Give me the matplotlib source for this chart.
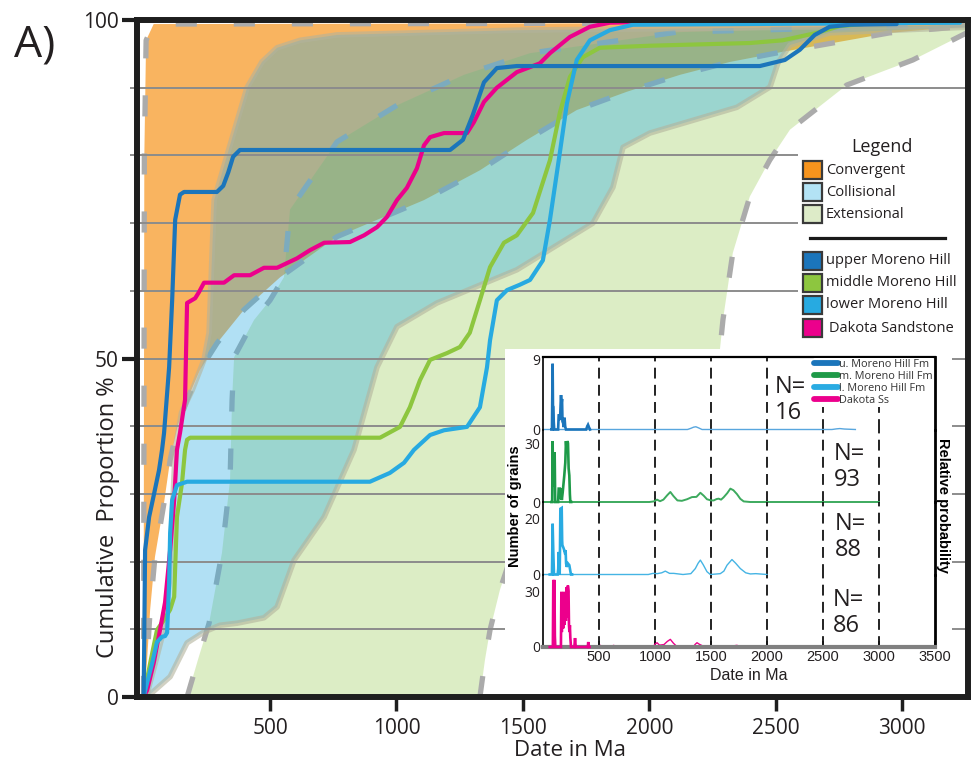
import matplotlib
matplotlib.use("Agg")
import matplotlib.pyplot as plt
from matplotlib.patches import Rectangle
from matplotlib.lines import Line2D

W, H = 974, 766
plt.rcParams['font.family'] = ['Open Sans', 'DejaVu Sans']

# ---------------- DATA ----------------
# Cumulative proportion curves (Date in Ma, cumulative %)
umh_x = [0, 2, 6, 22, 42, 61, 73, 81, 101, 113, 125, 144, 160, 290, 315, 335, 354, 381, 1212, 1263, 1302,
         1346, 1397, 1476, 2437, 2536, 2595, 2654, 2713, 2793, 2978]
umh_y = [0, 6, 21.7, 26.6, 30.1, 33.5, 36.5, 39, 48.7, 58.6, 70.5, 74.2, 74.6, 74.6, 75.5, 77.5, 79.8, 80.8, 80.8, 82.3, 86,
         90.8, 92.9, 93.2, 93.2, 94.1, 95.6, 97.8, 99, 99.3, 99.4]

mmh_x = [0, 26, 53, 81, 105, 121, 125, 132, 152, 164, 172, 184, 935, 1014, 1053, 1093, 1133, 1200, 1251, 1290,
         1330, 1370, 1425, 1476, 1540, 1607, 1646, 1686, 1737, 1804, 2002, 2397, 2527, 2662, 2753, 2844]
mmh_y = [0, 5, 9.9, 11.4, 12.9, 14.8, 19.2, 26.6, 31.6, 36.5, 38, 38.3, 38.3, 39.9, 42.8, 46.8, 49.8, 50.8, 51.7, 53.8,
         58.6, 63.5, 67.1, 68.2, 71.5, 79.3, 86.3, 91.6, 94.5, 95.9, 96.2, 96.6, 97, 98.1, 99.1, 99.4]

lmh_x = [0, 14, 34, 53, 73, 85, 93, 101, 105, 113, 132, 172, 895, 974, 1030, 1069, 1133, 1188, 1279, 1330, 1358,
         1370, 1397, 1437, 1488, 1528, 1579, 1607, 1646, 1674, 1713, 1765, 1844, 1935, 3228]
lmh_y = [0, 2.1, 5, 8.1, 8.9, 9, 9.5, 16.8, 24.2, 29.1, 31.3, 31.8, 31.8, 33.1, 34.6, 36.5, 38.7, 39.4, 39.9, 42.8, 48.7,
         52.7, 58.6, 60.1, 60.9, 61.6, 64.5, 70.5, 80.4, 87.7, 94.1, 97, 98.5, 99.3, 99.6]

dak_x = [0, 14, 40, 65, 85, 105, 121, 132, 144, 164, 172, 204, 219, 239, 318, 358, 421, 476, 528, 607, 658, 714,
         816, 872, 923, 962, 1002, 1041, 1081, 1109, 1133, 1188, 1279, 1306, 1346, 1397, 1476, 1567, 1607, 1686,
         1765, 1844, 1963]
dak_y = [0, 1, 5, 9.9, 14, 21.7, 29.1, 36.5, 39, 43.9, 58.2, 58.9, 59.8, 61.2, 61.2, 62.3, 62.3, 63.4, 63.4, 64.8, 66, 67.1,
         67.2, 68.2, 69.4, 70.9, 73.4, 75.2, 78.1, 81.5, 82.7, 83.3, 83.3, 84.9, 87.9, 90, 92.3, 93.6, 95.1, 97.5,
         99, 99.6, 99.7]

# Tectonic-setting envelopes (Date in Ma, cumulative %)
conv_up_x = [0, 3, 10, 40, 3300]
conv_up_y = [0, 80, 97, 99.4, 99.6]
conv_low_x = [2, 14, 26, 45, 81, 105, 136, 172, 223, 291, 397, 540, 765, 1109, 1330, 1516, 1713, 1911, 2121,
              2318, 2527, 2725, 2950, 3228, 3300]
conv_low_y = [0, 5.5, 12.9, 20.7, 28.7, 35, 40.2, 43.9, 48.3, 52.3, 57.2, 62, 68, 73.4, 77.8, 82.3, 86.7, 89.4, 91.9,
              93.8, 95.3, 96.6, 98.1, 99, 99.2]

coll_up_x = [14, 42, 73, 101, 113, 125, 150, 192, 239, 259, 279, 330, 409, 468, 528, 619, 765, 1476, 3300]
coll_up_y = [0.5, 4.4, 8.9, 16.8, 26.6, 36.5, 42, 45.3, 49.8, 53.8, 73.4, 80, 90, 93.8, 95.9, 97, 97.8, 98.5, 99.2]
coll_low_x = [14, 105, 172, 239, 302, 370, 476, 528, 595, 714, 832, 923, 1002, 1160, 1476, 1777, 1856, 1896,
              2002, 2346, 2477, 2508, 2556, 2713, 3300]
coll_low_y = [0, 3, 8, 9.6, 10.6, 10.9, 11.7, 13.3, 20.2, 26.6, 36.5, 48.7, 54.7, 58.2, 63.1, 70, 75.3, 81.2,
              83.3, 87.1, 90.1, 93.6, 96.3, 98.1, 99]

ext_left_x = [172, 215, 259, 310, 342, 350, 358, 437, 500, 555, 579, 765, 1002, 1267, 1528, 2109, 3228, 3300]
ext_left_y = [0, 5.5, 10.9, 21.3, 32.1, 43.9, 50.2, 55.7, 58.6, 62, 72, 82, 87.4, 91.9, 95.1, 98.2, 99.3, 99.4]
ext_right_x = [1330, 1350, 1370, 1409, 1488, 1646, 1884, 2121, 2239, 2279, 2291, 2330, 2397, 2476, 2556,
               2781, 3042, 3255, 3300]
ext_right_y = [0, 5.5, 9.9, 15.8, 24.7, 32.1, 38, 42.4, 46.8, 51.3, 55.7, 65.6, 73.9, 79.3, 83.8, 90.4, 94.1,
               98.1, 98.8]

# Axis ticks
xticks_main = [500, 1000, 1500, 2000, 2500, 3000]
yticks_main = [0, 50, 100]
ygrid = [10, 20, 30, 40, 50, 60, 70, 80, 90]

legend_fields = ['Convergent', 'Collisional', 'Extensional']
legend_samples = ['upper Moreno Hill', 'middle Moreno Hill', 'lower Moreno Hill', 'Dakota Sandstone']

# Inset: histograms (number of grains) and relative-probability traces
umh_hx = [75, 80, 84, 86, 89, 93, 96, 100, 135, 140, 146, 152, 158, 161, 165, 170, 174, 179, 184, 190, 193,
          198, 205, 385, 395, 402, 410, 420]
umh_hy = [0, 0, 6, 8.4, 3, 2.9, 1, 0, 0, 1.8, 1.8, 1.2, 3.5, 4.4, 3.2, 3.9, 1.0, 0.9, 0.3, 1.5, 1.4,
          0.4, 0, 0, 0.4, 0.6, 0.3, 0]
umh_px = [0, 420, 1290, 1320, 1345, 1365, 1390, 1420, 2580, 2620, 2650, 2690, 2789]
umh_py = [0, 0, 0, 0.15, 0.3, 0.35, 0.2, 0, 0, 0.08, 0.12, 0.06, 0]

mmh_hx = [75, 82, 86, 90, 98, 104, 109, 135, 140, 150, 155, 162, 168, 176, 190, 199, 205, 211, 217, 223, 229,
          235, 240, 244, 252]
mmh_hy = [0, 0, 31, 8, 12, 25.4, 0, 0, 6.8, 6.8, 1.5, 6.8, 1, 5, 13.5, 20, 31, 26, 31, 30, 17, 13.5, 4, 0, 0]
mmh_px = [0, 252, 950, 990, 1018, 1045, 1075, 1110, 1137, 1165, 1200, 1240, 1286, 1330, 1370, 1405, 1435,
          1464, 1500, 1524, 1550, 1568, 1590, 1613, 1645, 1673, 1700, 1732, 1762, 1792, 1850, 3000]
mmh_py = [0, 0, 0, 0.3, 1.2, 0.4, 1.2, 3.5, 5.1, 3, 0.8, 0.6, 1.4, 2.5, 2.6, 4.7, 3.2, 1.4, 0.8, 0.8, 1.5,
          1.7, 1.2, 2.4, 4.5, 6.8, 6, 4, 1.6, 0.3, 0, 0]

lmh_hx = [60, 80, 86, 92, 98, 131, 136, 140, 145, 149, 152, 155, 167, 171, 173, 185, 193, 202, 206, 211, 223,
          235, 245, 250, 260]
lmh_hy = [0, 0, 18, 8, 0, 0, 2, 8, 2, 0, 10, 23.3, 23.6, 12, 10.4, 9.2, 8, 8.6, 4, 2.7, 3.9, 3.3, 1, 0, 0]
lmh_px = [0, 260, 940, 982, 1020, 1060, 1092, 1130, 1167, 1250, 1320, 1360, 1385, 1405, 1430, 1464, 1494,
          1583, 1615, 1643, 1687, 1720, 1762, 1810, 1851, 1900, 2000]
lmh_py = [0, 0, 0, 0.4, 0.3, 0.6, 1.2, 0.4, 0.4, 0, 0.3, 2.1, 4, 5.1, 3.5, 1, 0, 0.3, 1.2, 3.3, 5.3, 4, 2.1,
          0.6, 0.2, 0.3, 0]

dak_hx = [60, 88, 92, 97, 102, 106, 110, 160, 164, 168, 174, 180, 186, 192, 198, 204, 210, 216, 222, 228, 232,
          236, 240, 244, 250, 280, 286, 292, 300, 400, 404, 408, 416]
dak_hy = [0, 0, 36, 8, 36, 6, 0, 0, 29.6, 8, 29, 10, 29.6, 12, 29, 14, 32, 16, 33, 30, 11.7, 8, 11.7, 5, 0, 0,
          4.8, 0, 0, 0, 2.7, 0, 0]
dak_px = [0, 416, 490, 512, 535, 600, 631, 660, 690, 705, 725, 980, 1000, 1018, 1040, 1080, 1110, 1137, 1165,
          1200, 1340, 1360, 1375, 1395, 1435, 1600, 1643, 1680, 1710, 1732, 1760, 2000]
dak_py = [0, 0, 0, 0.9, 0, 0, 0.9, 0, 0.5, 0.6, 0, 0, 1.5, 2.3, 1, 1.3, 3, 4.1, 2, 0, 0, 1.5, 2.3, 1.5, 0.3,
          0, 0.5, 0.3, 0.7, 0.9, 0.2, 0]

inset_labels = ['u. Moreno Hill Fm', 'm. Moreno Hill Fm', 'l. Moreno Hill Fm', 'Dakota Ss']
inset_ntext = ['16', '93', '88', '86']
inset_ytop = [9, 30, 20, 30]
inset_xticks = [500, 1000, 1500, 2000, 2500, 3000, 3500]
inset_dash_x = [500, 1000, 1500, 2000, 2500, 3000]

# ---------------- STYLE ----------------
C_CONV = '#F7941D'; C_COLL = '#29ABE2'; C_EXT = '#8DC63F'
C_UMH = '#1B75BB'; C_MMH = '#8DC63F'; C_LMH = '#27AAE1'; C_DAK = '#EC008C'

fig = plt.figure(figsize=(W / 100, H / 100), dpi=100)
ax = fig.add_axes([137 / W, 1 - 697 / H, (968 - 137) / W, (697 - 20) / H])
ax.set_zorder(0)
ax.set_xlim(-26, 3260)
ax.set_ylim(0, 100)


def poly(x1, y1, x2, y2):
    return list(x1) + list(x2)[::-1], list(y1) + list(y2)[::-1]


px_, py_ = poly(conv_up_x, conv_up_y, conv_low_x, conv_low_y)
ax.fill(px_, py_, color=C_CONV, alpha=0.7, lw=0, zorder=1)
px_, py_ = poly(ext_left_x, ext_left_y, ext_right_x, ext_right_y)
ax.fill(px_, py_, color=C_EXT, alpha=0.3, lw=0, zorder=1.2)

dash_kw = dict(color='#ABABAB', lw=3.8, dashes=(4, 7), zorder=1.5)
ax.plot(conv_low_x, conv_low_y, **dash_kw)
ax.plot(conv_up_x, conv_up_y, **dash_kw)
ax.plot(ext_left_x, ext_left_y, **dash_kw)
ax.plot(ext_right_x, ext_right_y, **dash_kw)

px_, py_ = poly(coll_up_x, coll_up_y, coll_low_x, coll_low_y)
ax.fill(px_, py_, color=C_COLL, alpha=0.36, lw=0, zorder=1.8)
ax.plot(coll_up_x, coll_up_y, color='#B3B39C', alpha=0.6, lw=4, zorder=2)
ax.plot(coll_low_x, coll_low_y, color='#B3B39C', alpha=0.6, lw=4, zorder=2)

for g in ygrid:
    ax.axhline(g, color='#8C8C8C', lw=1.4, zorder=2.5)

line_kw = dict(lw=3, zorder=4, solid_joinstyle='round', solid_capstyle='round')
ax.plot(mmh_x, mmh_y, color=C_MMH, **line_kw)
ax.plot(dak_x, dak_y, color=C_DAK, **line_kw)
ax.plot(lmh_x, lmh_y, color=C_LMH, **line_kw)
ax.plot(umh_x, umh_y, color=C_UMH, **line_kw)

for s in ax.spines.values():
    s.set_linewidth(4.3)
    s.set_color('#1E1E1E')
    s.set_zorder(10)

ax.set_xticks(xticks_main)
ax.set_xticklabels([str(v) for v in xticks_main], fontsize=15, color='#231F20')
ax.tick_params(axis='x', length=10, width=2.5, pad=5, color='#1E1E1E')
ax.set_yticks(yticks_main)
ax.set_yticklabels([str(v) for v in yticks_main], fontsize=15, color='#231F20')
ax.tick_params(axis='y', which='major', length=11, width=3, pad=2, color='#1E1E1E')
ax.set_yticks(ygrid, minor=True)
ax.tick_params(axis='y', which='minor', length=5, width=1.4, color='#8C8C8C')
ax.tick_params(axis='x', which='minor', bottom=False)

fig.text(108 / W, 1 - 517 / H, 'Cumulative  Proportion %', rotation=90, ha='center', va='center',
         fontsize=17, color='#231F20')
fig.text(570 / W, 1 - 750 / H, 'Date in Ma', ha='center', va='center', fontsize=16, color='#231F20')
fig.text(14 / W, 1 - 45 / H, 'A)', ha='left', va='center', fontsize=32, color='#231F20')

# white background behind the inset
fig.patches.append(Rectangle((505 / W, 1 - 694 / H), (952 - 505) / W, (694 - 349) / H,
                             transform=fig.transFigure, fc='white', ec='none', zorder=1))

# ---------------- main legend ----------------
lax = fig.add_axes([798 / W, 1 - 345 / H, (965 - 798) / W, (345 - 135) / H])
lax.set_zorder(2)
lax.set_xlim(798, 965)
lax.set_ylim(345, 135)
lax.set_xticks([]); lax.set_yticks([])
for s in lax.spines.values():
    s.set_visible(False)
lax.text(882, 147, 'Legend', ha='center', va='center', fontsize=13, color='#231F20')
field_colors = ['#F7941D', '#B3E3F5', '#DDEBC8']
field_rows = [170, 192, 214]
for lab, col, r in zip(legend_fields, field_colors, field_rows):
    lax.add_patch(Rectangle((803, r - 9), 19, 18, fc=col, ec='#3A3A3A', lw=1.6))
    lax.text(826, r, lab, ha='left', va='center', fontsize=10.5, color='#231F20')
lax.plot([810, 945], [238, 238], color='#1A1A1A', lw=2.3)
sample_colors = [C_UMH, C_MMH, C_LMH, C_DAK]
sample_rows = [261, 283, 305, 328]
for lab, col, r in zip(legend_samples, sample_colors, sample_rows):
    lax.add_patch(Rectangle((803, r - 9), 19, 18, fc=col, ec='#3A3A3A', lw=1.6))
    lax.text(826 if 'Dakota' not in lab else 829, r, lab, ha='left', va='center', fontsize=10.5, color='#231F20')

# ---------------- inset ----------------
panel_top = [357, 429.5, 502, 574.5]
ph = 72.5
ylims = [9.26, 36.9, 25.7, 38.9]
hist_x = [umh_hx, mmh_hx, lmh_hx, dak_hx]
hist_y = [umh_hy, mmh_hy, lmh_hy, dak_hy]
pdp_x = [umh_px, mmh_px, lmh_px, dak_px]
pdp_y = [umh_py, mmh_py, lmh_py, dak_py]
hist_cols = ['#1B75BB', '#1E9A48', '#29ABE2', '#EC008C']
pdp_cols = ['#58A6DE', '#3DAA5E', '#45B4E4', '#EC008C']
n_pos = [(775, 400), (834, 467), (835, 537), (833, 613)]

for i in range(4):
    a = fig.add_axes([543 / W, 1 - (panel_top[i] + ph) / H, 392 / W, ph / H])
    a.set_zorder(2)
    a.set_xlim(0, 3500)
    a.set_ylim(0, ylims[i])
    a.patch.set_alpha(0)
    for v in inset_dash_x:
        a.axvline(v, color='#111111', lw=1.3, ls=(0, (6, 3.5)), zorder=0.5)
    a.plot(pdp_x[i], pdp_y[i], color=pdp_cols[i], lw=1.0 if i != 1 else 1.4, clip_on=False, zorder=2)
    a.plot(hist_x[i], hist_y[i], color=hist_cols[i], lw=1.9, clip_on=False, zorder=3,
           solid_joinstyle='miter')
    a.spines['left'].set_linewidth(1.2)
    a.spines['right'].set_linewidth(2.0)
    a.spines['top'].set_visible(i == 0)
    a.spines['top'].set_linewidth(1.6)
    a.spines['bottom'].set_visible(i == 3)
    a.spines['bottom'].set_linewidth(3)
    a.spines['bottom'].set_color('#808080')
    a.set_yticks([0, inset_ytop[i]])
    a.set_yticklabels(['0', str(inset_ytop[i])], fontsize=10, color='#231F20')
    a.tick_params(axis='y', length=0, pad=2)
    a.set_xticks(inset_xticks)
    if i == 3:
        a.set_xticklabels([str(v) for v in inset_xticks], fontsize=10.5, color='#231F20',
                          family=['Liberation Sans', 'DejaVu Sans'])
        a.tick_params(axis='x', direction='in', length=4, width=1.2, color='#111111', pad=2)
    else:
        a.tick_params(axis='x', length=0, labelbottom=False)
    if i == 0:
        handles = [Line2D([], [], color=c, lw=4.2, solid_capstyle='round') for c in hist_cols]
        leg = a.legend(handles, inset_labels, loc='upper right', fontsize=7.8, frameon=True,
                       facecolor='white', edgecolor='none', framealpha=1, borderpad=0.1,
                       labelspacing=0.08, handlelength=2.2, handletextpad=0.15, borderaxespad=0.1,
                       prop={'family': ['Open Sans', 'DejaVu Sans'], 'size': 7.8})
        for t in leg.get_texts():
            t.set_color('#333333')
    fig.text(n_pos[i][0] / W, 1 - n_pos[i][1] / H, 'N=\n' + inset_ntext[i], ha='left', va='center',
             fontsize=17, linespacing=1.15, color='#231F20', zorder=4)

fig.text(515 / W, 1 - 506 / H, 'Number of grains', rotation=90, ha='center', va='center',
         fontsize=10.5, fontweight='bold', family=['Liberation Sans', 'DejaVu Sans'])
fig.text(943 / W, 1 - 505 / H, 'Relative probability', rotation=-90, ha='center', va='center',
         fontsize=10.5, fontweight='bold', family=['Liberation Sans', 'DejaVu Sans'])
fig.text(749 / W, 1 - 675 / H, 'Date in Ma', ha='center', va='center', fontsize=11.5, color='#231F20',
         family=['Liberation Sans', 'DejaVu Sans'])

fig.savefig('out.png', dpi=100)
